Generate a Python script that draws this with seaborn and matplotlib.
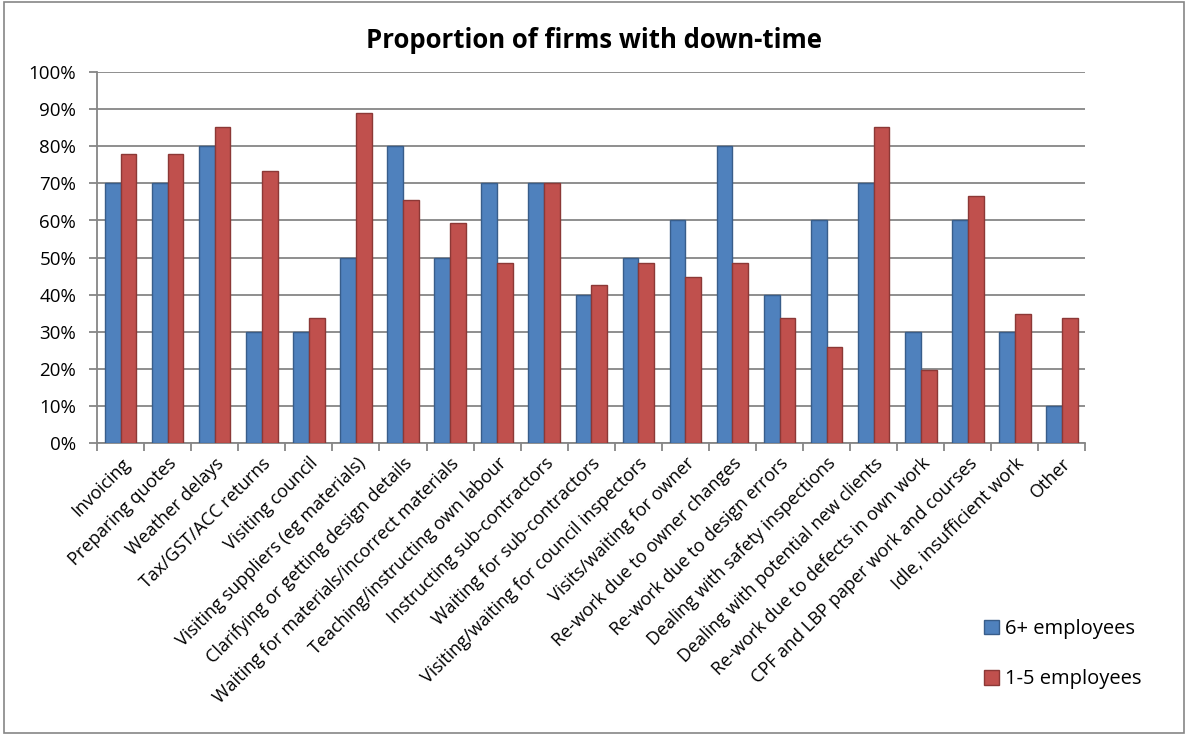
import matplotlib
matplotlib.use("Agg")
import matplotlib.pyplot as plt
import matplotlib.patches as mpatches
from matplotlib.ticker import FixedLocator, PercentFormatter
import seaborn as sns
import pandas as pd

categories = [
    "Invoicing", "Preparing quotes", "Weather delays", "Tax/GST/ACC returns",
    "Visiting council", "Visiting suppliers (eg materials)",
    "Clarifying or getting design details", "Waiting for materials/incorrect materials",
    "Teaching/instructing own labour", "Instructing sub-contractors",
    "Waiting for sub-contractors", "Visiting/waiting for council inspectors",
    "Visits/waiting for owner", "Re-work due to owner changes",
    "Re-work due to design errors", "Dealing with safety inspections",
    "Dealing with potential new clients", "Re-work due to defects in own work",
    "CPF and LBP paper work and courses", "Idle, insufficient work", "Other",
]
series_names = ["6+ employees", "1-5 employees"]
large_firms = [70, 70, 80, 30, 30, 50, 80, 50, 70, 70, 40, 50, 60, 80, 40, 60, 70, 30, 60, 30, 10]
small_firms = [78, 78, 85.3, 73.3, 33.7, 89, 65.5, 59.2, 48.5, 70, 42.6, 48.5, 44.8, 48.5, 33.7,
               26, 85.3, 19.6, 66.5, 34.7, 33.7]

df = pd.DataFrame({
    "category": categories * 2,
    "series": [series_names[0]] * len(categories) + [series_names[1]] * len(categories),
    "value": large_firms + small_firms,
})

plt.rcParams["font.family"] = ["Open Sans", "DejaVu Sans"]
fig = plt.figure(figsize=(11.88, 7.35), dpi=100)
ax = fig.add_axes([0.0817, 0.397, 0.832, 0.505])

palette = {series_names[0]: "#4F81BD", series_names[1]: "#C0504D"}
sns.barplot(data=df, x="category", y="value", hue="series", palette=palette,
            order=categories, hue_order=series_names, width=0.67, gap=0,
            saturation=1, ax=ax, legend=False, zorder=3)
edge = {series_names[0]: "#385D8A", series_names[1]: "#8C3836"}
for cont, name in zip(ax.containers, series_names):
    for b in cont:
        b.set_edgecolor(edge[name])
        b.set_linewidth(1.0)

ax.set_ylim(0, 100)
ax.set_xlim(-0.5, len(categories) - 0.5)
ax.set_yticks(range(0, 101, 10))
ax.yaxis.set_major_formatter(PercentFormatter(decimals=0))
ax.yaxis.grid(True, color="#868686", linewidth=1.3, zorder=0)
ax.xaxis.grid(False)
ax.set_facecolor("white")
for s in ["top", "right"]:
    ax.spines[s].set_visible(False)
for s in ["left", "bottom"]:
    ax.spines[s].set_color("#868686")
    ax.spines[s].set_linewidth(1.3)
ax.tick_params(axis="y", length=6, color="#868686", width=1.3, labelsize=13.5, pad=9)
ax.tick_params(axis="x", which="major", length=0, labelsize=13, pad=8)
ax.xaxis.set_minor_locator(FixedLocator([i - 0.5 for i in range(len(categories) + 1)]))
ax.tick_params(axis="x", which="minor", length=6, color="#868686", width=1.3)
ax.set_xticks(range(len(categories)))
ax.set_xticklabels(categories, rotation=45, ha="right", rotation_mode="anchor")
ax.set_xlabel("")
ax.set_ylabel("")

fig.text(0.5, 0.945, "Proportion of firms with down-time", ha="center", va="center",
         fontsize=18.5, fontweight="bold")

handles = [mpatches.Patch(facecolor=palette[n], edgecolor=edge[n], label=n) for n in series_names]
fig.legend(handles=handles, loc="center left", bbox_to_anchor=(0.813, 0.11), frameon=False,
           fontsize=14.5, handlelength=0.75, handleheight=0.75, handletextpad=0.3, labelspacing=1.5)

fig.patches.append(mpatches.Rectangle((0.003, 0.003), 0.994, 0.994, transform=fig.transFigure,
                                      fill=False, edgecolor="#868686", linewidth=1.2))
fig.savefig("out.png", dpi=100, facecolor="white")
